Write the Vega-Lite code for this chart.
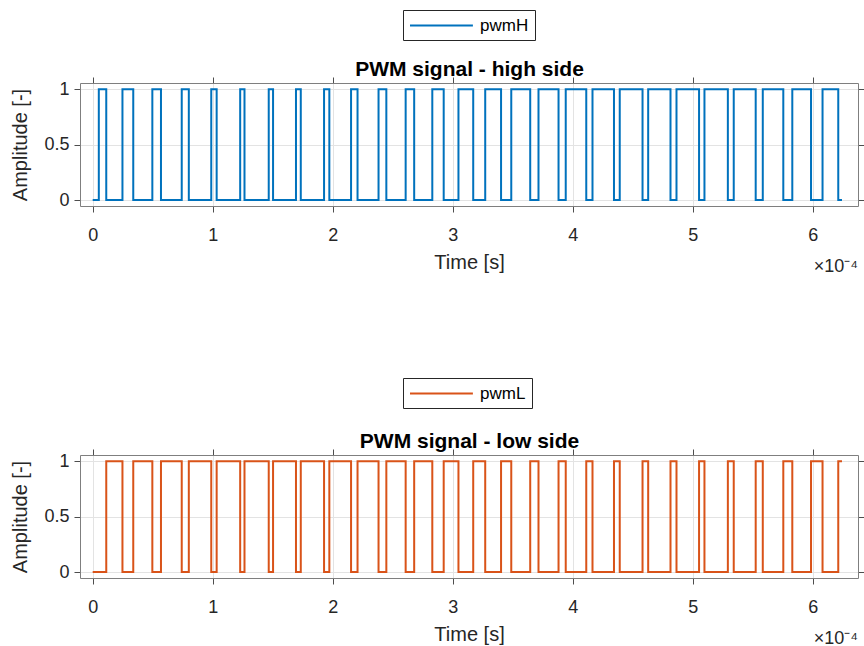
{
  "$schema": "https://vega.github.io/schema/vega-lite/v6.json",
  "padding": {"left": 10, "top": 9, "right": 0, "bottom": 0},
  "background": "white",
  "datasets": {
    "high": [
      {"series": "pwmH", "t": 0, "v": 0},
      {"series": "pwmH", "t": 0.051, "v": 1}, {"series": "pwmH", "t": 0.113, "v": 0},
      {"series": "pwmH", "t": 0.248, "v": 1}, {"series": "pwmH", "t": 0.338, "v": 0},
      {"series": "pwmH", "t": 0.497, "v": 1}, {"series": "pwmH", "t": 0.569, "v": 0},
      {"series": "pwmH", "t": 0.742, "v": 1}, {"series": "pwmH", "t": 0.801, "v": 0},
      {"series": "pwmH", "t": 0.988, "v": 1}, {"series": "pwmH", "t": 1.033, "v": 0},
      {"series": "pwmH", "t": 1.229, "v": 1}, {"series": "pwmH", "t": 1.265, "v": 0},
      {"series": "pwmH", "t": 1.467, "v": 1}, {"series": "pwmH", "t": 1.503, "v": 0},
      {"series": "pwmH", "t": 1.694, "v": 1}, {"series": "pwmH", "t": 1.734, "v": 0},
      {"series": "pwmH", "t": 1.928, "v": 1}, {"series": "pwmH", "t": 1.972, "v": 0},
      {"series": "pwmH", "t": 2.153, "v": 1}, {"series": "pwmH", "t": 2.207, "v": 0},
      {"series": "pwmH", "t": 2.382, "v": 1}, {"series": "pwmH", "t": 2.447, "v": 0},
      {"series": "pwmH", "t": 2.608, "v": 1}, {"series": "pwmH", "t": 2.679, "v": 0},
      {"series": "pwmH", "t": 2.830, "v": 1}, {"series": "pwmH", "t": 2.925, "v": 0},
      {"series": "pwmH", "t": 3.048, "v": 1}, {"series": "pwmH", "t": 3.171, "v": 0},
      {"series": "pwmH", "t": 3.271, "v": 1}, {"series": "pwmH", "t": 3.403, "v": 0},
      {"series": "pwmH", "t": 3.488, "v": 1}, {"series": "pwmH", "t": 3.646, "v": 0},
      {"series": "pwmH", "t": 3.715, "v": 1}, {"series": "pwmH", "t": 3.882, "v": 0},
      {"series": "pwmH", "t": 3.942, "v": 1}, {"series": "pwmH", "t": 4.113, "v": 0},
      {"series": "pwmH", "t": 4.165, "v": 1}, {"series": "pwmH", "t": 4.344, "v": 0},
      {"series": "pwmH", "t": 4.392, "v": 1}, {"series": "pwmH", "t": 4.582, "v": 0},
      {"series": "pwmH", "t": 4.629, "v": 1}, {"series": "pwmH", "t": 4.815, "v": 0},
      {"series": "pwmH", "t": 4.865, "v": 1}, {"series": "pwmH", "t": 5.053, "v": 0},
      {"series": "pwmH", "t": 5.098, "v": 1}, {"series": "pwmH", "t": 5.293, "v": 0},
      {"series": "pwmH", "t": 5.342, "v": 1}, {"series": "pwmH", "t": 5.525, "v": 0},
      {"series": "pwmH", "t": 5.584, "v": 1}, {"series": "pwmH", "t": 5.755, "v": 0},
      {"series": "pwmH", "t": 5.830, "v": 1}, {"series": "pwmH", "t": 5.986, "v": 0},
      {"series": "pwmH", "t": 6.082, "v": 1}, {"series": "pwmH", "t": 6.213, "v": 0},
      {"series": "pwmH", "t": 6.244, "v": 0}
    ],
    "low": [
      {"series": "pwmL", "t": 0, "v": 0},
      {"series": "pwmL", "t": 0.113, "v": 1}, {"series": "pwmL", "t": 0.248, "v": 0},
      {"series": "pwmL", "t": 0.338, "v": 1}, {"series": "pwmL", "t": 0.497, "v": 0},
      {"series": "pwmL", "t": 0.569, "v": 1}, {"series": "pwmL", "t": 0.742, "v": 0},
      {"series": "pwmL", "t": 0.801, "v": 1}, {"series": "pwmL", "t": 0.988, "v": 0},
      {"series": "pwmL", "t": 1.033, "v": 1}, {"series": "pwmL", "t": 1.229, "v": 0},
      {"series": "pwmL", "t": 1.265, "v": 1}, {"series": "pwmL", "t": 1.467, "v": 0},
      {"series": "pwmL", "t": 1.503, "v": 1}, {"series": "pwmL", "t": 1.694, "v": 0},
      {"series": "pwmL", "t": 1.734, "v": 1}, {"series": "pwmL", "t": 1.928, "v": 0},
      {"series": "pwmL", "t": 1.972, "v": 1}, {"series": "pwmL", "t": 2.153, "v": 0},
      {"series": "pwmL", "t": 2.207, "v": 1}, {"series": "pwmL", "t": 2.382, "v": 0},
      {"series": "pwmL", "t": 2.447, "v": 1}, {"series": "pwmL", "t": 2.608, "v": 0},
      {"series": "pwmL", "t": 2.679, "v": 1}, {"series": "pwmL", "t": 2.830, "v": 0},
      {"series": "pwmL", "t": 2.925, "v": 1}, {"series": "pwmL", "t": 3.048, "v": 0},
      {"series": "pwmL", "t": 3.171, "v": 1}, {"series": "pwmL", "t": 3.271, "v": 0},
      {"series": "pwmL", "t": 3.403, "v": 1}, {"series": "pwmL", "t": 3.488, "v": 0},
      {"series": "pwmL", "t": 3.646, "v": 1}, {"series": "pwmL", "t": 3.715, "v": 0},
      {"series": "pwmL", "t": 3.882, "v": 1}, {"series": "pwmL", "t": 3.942, "v": 0},
      {"series": "pwmL", "t": 4.113, "v": 1}, {"series": "pwmL", "t": 4.165, "v": 0},
      {"series": "pwmL", "t": 4.344, "v": 1}, {"series": "pwmL", "t": 4.392, "v": 0},
      {"series": "pwmL", "t": 4.582, "v": 1}, {"series": "pwmL", "t": 4.629, "v": 0},
      {"series": "pwmL", "t": 4.815, "v": 1}, {"series": "pwmL", "t": 4.865, "v": 0},
      {"series": "pwmL", "t": 5.053, "v": 1}, {"series": "pwmL", "t": 5.098, "v": 0},
      {"series": "pwmL", "t": 5.293, "v": 1}, {"series": "pwmL", "t": 5.342, "v": 0},
      {"series": "pwmL", "t": 5.525, "v": 1}, {"series": "pwmL", "t": 5.584, "v": 0},
      {"series": "pwmL", "t": 5.755, "v": 1}, {"series": "pwmL", "t": 5.830, "v": 0},
      {"series": "pwmL", "t": 5.986, "v": 1}, {"series": "pwmL", "t": 6.082, "v": 0},
      {"series": "pwmL", "t": 6.213, "v": 1},
      {"series": "pwmL", "t": 6.244, "v": 1}
    ]
  },
  "vconcat": [
    {
      "width": 778,
      "height": 123,
      "layer": [
        {
          "data": {"name": "high"},
          "mark": {"type": "line", "interpolate": "step-after", "strokeWidth": 2},
          "encoding": {
            "x": {"field": "t", "type": "quantitative",
              "scale": {"domain": [-0.1058, 6.3775], "nice": false, "zero": false},
              "axis": {"title": "Time [s]", "values": [0, 1, 2, 3, 4, 5, 6], "format": "d", "grid": true, "labelPadding": 14, "titlePadding": 8}},
            "y": {"field": "v", "type": "quantitative",
              "scale": {"domain": [-0.054, 1.056], "nice": false, "zero": false},
              "axis": {"title": "Amplitude [-]", "values": [0, 0.5, 1], "format": "~g", "grid": true, "labelPadding": 5, "titlePadding": 13}},
            "color": {"field": "series", "type": "nominal",
              "scale": {"domain": ["pwmH"], "range": ["#0072BD"]},
              "legend": {"orient": "none", "legendX": 323, "legendY": -73, "title": null}}
          }
        },
        {
          "data": {"values": [{"label": "×10⁻⁴"}]},
          "mark": {"type": "text", "align": "right", "baseline": "middle", "fontSize": 18, "color": "#262626"},
          "encoding": {
            "x": {"datum": 6.3775, "type": "quantitative",
              "axis": {"orient": "top", "labels": false, "grid": false, "values": [0, 1, 2, 3, 4, 5, 6], "title": "PWM signal - high side", "titleFontWeight": "bold", "titleColor": "#000000", "titleFontSize": 21, "titlePadding": -3}},
            "y": {"datum": -0.6, "type": "quantitative",
              "axis": {"orient": "right", "labels": false, "grid": false, "values": [0, 0.5, 1], "title": null}},
            "text": {"field": "label"}
          }
        }
      ],
      "resolve": {"axis": {"x": "independent", "y": "independent"}}
    },
    {
      "width": 778,
      "height": 123,
      "layer": [
        {
          "data": {"name": "low"},
          "mark": {"type": "line", "interpolate": "step-after", "strokeWidth": 2},
          "encoding": {
            "x": {"field": "t", "type": "quantitative",
              "scale": {"domain": [-0.1058, 6.3775], "nice": false, "zero": false},
              "axis": {"title": "Time [s]", "values": [0, 1, 2, 3, 4, 5, 6], "format": "d", "grid": true, "labelPadding": 14, "titlePadding": 8}},
            "y": {"field": "v", "type": "quantitative",
              "scale": {"domain": [-0.054, 1.056], "nice": false, "zero": false},
              "axis": {"title": "Amplitude [-]", "values": [0, 0.5, 1], "format": "~g", "grid": true, "labelPadding": 5, "titlePadding": 13}},
            "color": {"field": "series", "type": "nominal",
              "scale": {"domain": ["pwmL"], "range": ["#D95319"]},
              "legend": {"orient": "none", "legendX": 323, "legendY": -77, "title": null}}
          }
        },
        {
          "data": {"values": [{"label": "×10⁻⁴"}]},
          "mark": {"type": "text", "align": "right", "baseline": "middle", "fontSize": 18, "color": "#262626"},
          "encoding": {
            "x": {"datum": 6.3775, "type": "quantitative",
              "axis": {"orient": "top", "labels": false, "grid": false, "values": [0, 1, 2, 3, 4, 5, 6], "title": "PWM signal - low side", "titleFontWeight": "bold", "titleColor": "#000000", "titleFontSize": 21, "titlePadding": -3}},
            "y": {"datum": -0.6, "type": "quantitative",
              "axis": {"orient": "right", "labels": false, "grid": false, "values": [0, 0.5, 1], "title": null}},
            "text": {"field": "label"}
          }
        }
      ],
      "resolve": {"axis": {"x": "independent", "y": "independent"}}
    }
  ],
  "spacing": 100,
  "resolve": {"scale": {"color": "independent"}, "legend": {"color": "independent"}},
  "config": {
    "font": "Liberation Sans",
    "view": {"stroke": "#7f7f7f", "strokeWidth": 1},
    "axis": {
      "domain": false,
      "tickColor": "#4d4d4d",
      "tickSize": 6,
      "labelFontSize": 18,
      "labelColor": "#262626",
      "titleFontSize": 20,
      "titleFontWeight": "normal",
      "titleColor": "#262626",
      "gridColor": "#e3e3e3",
      "gridWidth": 1
    },
    "legend": {
      "strokeColor": "#262626",
      "fillColor": "white",
      "padding": 6,
      "labelFontSize": 17,
      "labelColor": "#000000",
      "symbolType": "M-1,0H6.4",
      "symbolSize": 289,
      "symbolStrokeWidth": 2,
      "labelOffset": 52
    }
  }
}
